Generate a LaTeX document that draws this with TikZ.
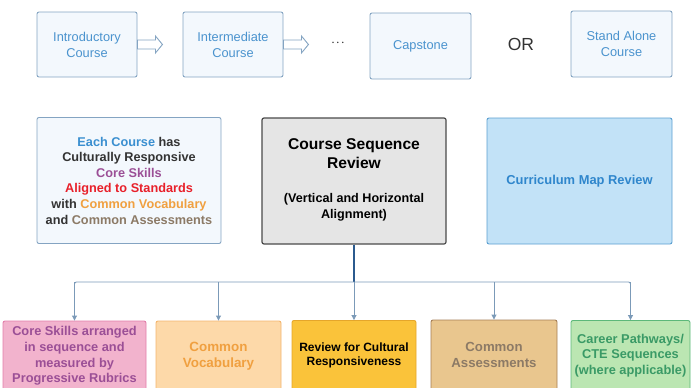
\documentclass[tikz,border=0pt]{standalone}
\usepackage{fontspec}
\setmainfont{Liberation Sans}
\usetikzlibrary{arrows.meta,calc}
\definecolor{topfill}{HTML}{F3F8FD}
\definecolor{topdraw}{HTML}{84A4C2}
\definecolor{toptext}{HTML}{4A93CE}
\definecolor{seqfill}{HTML}{E5E5E5}
\definecolor{seqdraw}{HTML}{4A4A4A}
\definecolor{mapfill}{HTML}{C2E2F7}
\definecolor{mapdraw}{HTML}{5B9FD0}
\definecolor{maptext}{HTML}{2F86CC}
\definecolor{cblue}{HTML}{3A8FD0}
\definecolor{cpurple}{HTML}{9B4F96}
\definecolor{cred}{HTML}{E8202A}
\definecolor{corange}{HTML}{F0A040}
\definecolor{cbrown}{HTML}{8C7A66}
\definecolor{cdark}{HTML}{333333}
\definecolor{pinkfill}{HTML}{F2B3CD}
\definecolor{pinkdraw}{HTML}{E27EAA}
\definecolor{vocfill}{HTML}{FDD9A9}
\definecolor{vocdraw}{HTML}{F3B56E}
\definecolor{yelfill}{HTML}{FAC33A}
\definecolor{yeldraw}{HTML}{E5A62A}
\definecolor{tanfill}{HTML}{E9C68E}
\definecolor{tandraw}{HTML}{A57E55}
\definecolor{grnfill}{HTML}{BBE6B2}
\definecolor{grndraw}{HTML}{5CB87A}
\definecolor{grntext}{HTML}{3A9A66}
\definecolor{linkdark}{HTML}{2B5A8E}
\definecolor{linklight}{HTML}{7B9AB8}
\tikzset{
  topbox/.style={draw=topdraw, fill=topfill, line width=0.9pt, rounded corners=2pt,
    text=toptext, align=center, font=\fontsize{12.8}{16}\selectfont, inner sep=0pt},
  midbox/.style={rounded corners=2pt, inner sep=0pt, align=center},
  botbox/.style={rounded corners=2pt, inner sep=0pt, align=center, line width=0.9pt,
    minimum height=70pt, font=\fontsize{12.8}{15.6}\selectfont\bfseries},
  hollow/.style={draw=topdraw, fill=white, line width=0.9pt, line join=miter},
  link/.style={draw=linklight, line width=0.9pt},
  linkarrow/.style={draw=linklight, line width=0.9pt, -{Triangle[length=5pt,width=5pt]}}
}
\begin{document}
\begin{tikzpicture}[x=1pt,y=-1pt]
\useasboundingbox (0,0) rectangle (691,388);
\clip (0,0) rectangle (691,388);
% top row
\node[topbox, minimum width=100pt, minimum height=65pt] (intro) at (87,44.5) {Introductory\\Course};
\node[topbox, minimum width=100pt, minimum height=65pt] (inter) at (233,44.5) {Intermediate\\Course};
\node[font=\fontsize{14}{16}\selectfont, text=cdark] (dots) at (338,43) {$\cdot\!\cdot\!\cdot$};
\node[topbox, minimum width=101pt, minimum height=66pt] (cap) at (420.5,46) {Capstone};
\node[font=\fontsize{17.5}{20}\selectfont, text=cdark] (or) at (521,44) {OR};
\node[topbox, minimum width=101pt, minimum height=66pt] (alone) at (621.5,44) {Stand Alone\\Course};
% hollow arrows
\draw[hollow] ($(intro.east)+(0,-4.5)$) -- ++(18,0) -- ++(0,-4) -- ++(7,8.5) -- ++(-7,8.5) -- ++(0,-4) -- ++(-18,0) -- cycle;
\draw[hollow] ($(inter.east)+(0,-4.5)$) -- ++(18,0) -- ++(0,-4) -- ++(7,8.5) -- ++(-7,8.5) -- ++(0,-4) -- ++(-18,0) -- cycle;
% middle row
\node[midbox, draw=topdraw, fill=topfill, line width=0.9pt, minimum width=184pt, minimum height=126pt,
  font=\fontsize{12.7}{15.6}\selectfont\bfseries, text=cdark] (each) at (129,180.5)
  {\textcolor{cblue}{Each Course} has\\Culturally Responsive\\\textcolor{cpurple}{Core Skills}\\
   \textcolor{cred}{Aligned to Standards}\\with \textcolor{corange}{Common Vocabulary}\\
   and \textcolor{cbrown}{Common Assessments}};
\node[midbox, draw=seqdraw, fill=seqfill, line width=1.2pt, minimum width=184pt, minimum height=126pt] (seq) at (354,181) {};
\node[align=center, font=\fontsize{15.6}{19}\selectfont\bfseries, text=black] (seqtitle) at (354,154) {Course Sequence\\Review};
\node[align=center, font=\fontsize{12.6}{16}\selectfont\bfseries, text=black] (seqsub) at (354,207.5) {(Vertical and Horizontal\\Alignment)};
\node[midbox, draw=mapdraw, fill=mapfill, line width=0.9pt, minimum width=185pt, minimum height=126pt,
  font=\fontsize{12.9}{15}\selectfont\bfseries, text=maptext] (cmap) at (579.5,181) {Curriculum Map Review};
% bottom row
\node[botbox, draw=pinkdraw, fill=pinkfill, text=cpurple, minimum width=143pt] (core) at (74.5,356)
  {Core Skills arranged\\in sequence and\\measured by\\Progressive Rubrics};
\node[botbox, draw=vocdraw, fill=vocfill, text=corange, minimum width=125pt,
  font=\fontsize{13.4}{16}\selectfont\bfseries] (voc) at (218.5,356)
  {Common\\Vocabulary};
\node[botbox, draw=yeldraw, fill=yelfill, text=black, minimum width=124pt,
  font=\fontsize{12}{14.5}\selectfont\bfseries] (rev) at (354,355.5)
  {Review for Cultural\\Responsiveness};
\node[botbox, draw=tandraw, fill=tanfill, text=cbrown, minimum width=126pt,
  font=\fontsize{13.2}{15.5}\selectfont\bfseries] (assess) at (494,355)
  {Common\\Assessments};
\node[botbox, draw=grndraw, fill=grnfill, text=grntext, minimum width=119pt] (career) at (630.5,355.5)
  {Career Pathways/\\CTE Sequences\\(where applicable)};
% connectors
\coordinate (hub) at (seq.south |- 0,282);
\coordinate (hl) at (core.north |- hub);
\coordinate (hr) at (career.north |- hub);
\draw[draw=linkdark, line width=1.3pt] (seq.south) -- (hub);
\draw[link, rounded corners=2pt] (core.north) ++(0,-1) -- (hl) -- (hr) -- ($(career.north)+(0,-1)$);
\draw[linkarrow] (hl) -- (core.north);
\draw[linkarrow] (voc.north |- hub) -- (voc.north);
\draw[linkarrow] (hub) -- (rev.north);
\draw[linkarrow] (assess.north |- hub) -- (assess.north);
\draw[linkarrow] (hr) -- (career.north);
\end{tikzpicture}
\end{document}
